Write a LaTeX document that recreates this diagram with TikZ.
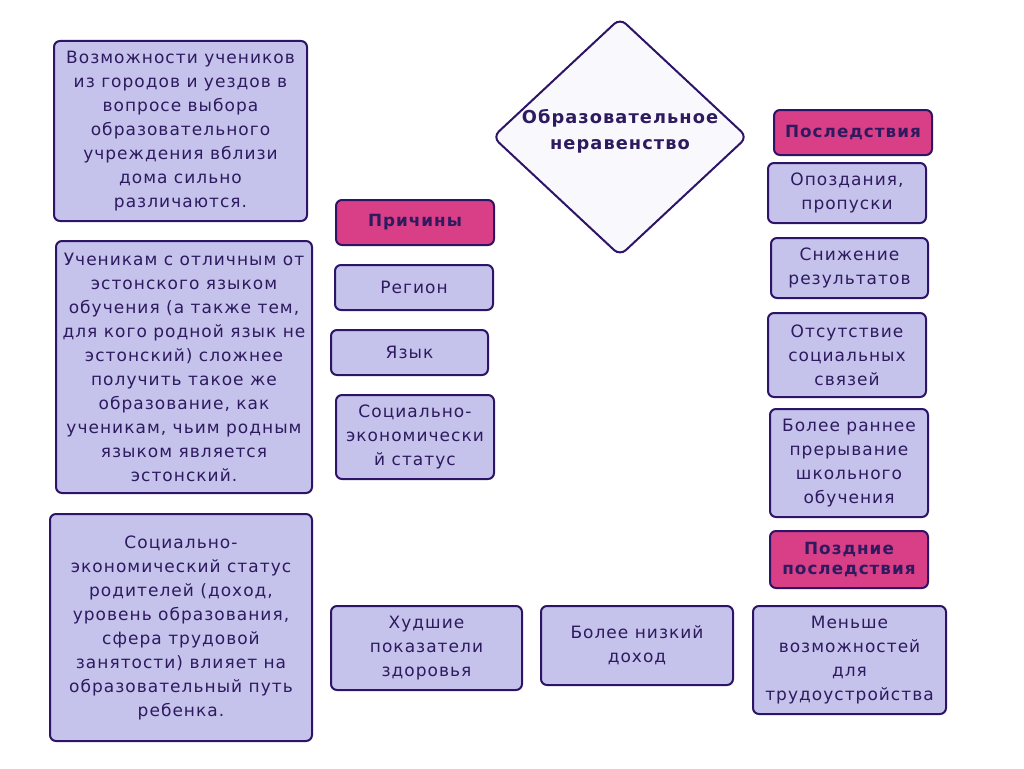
\documentclass[tikz,border=0pt]{standalone}
\usepackage{fontspec}
\setmainfont{DejaVu Sans}[LetterSpace=6]
\usetikzlibrary{shapes.geometric}
\definecolor{lav}{HTML}{C5C3EC}
\definecolor{edge}{HTML}{2D1466}
\definecolor{mag}{HTML}{D83F87}
\definecolor{ink}{HTML}{2E1A5E}
\definecolor{dfill}{HTML}{F9F9FD}
\tikzset{
  box/.style={draw=edge, line width=2pt, fill=lav, rounded corners=6pt, inner sep=0pt,
    align=center, text=ink, font=\fontsize{17}{24}\selectfont},
  headbox/.style={draw=edge, line width=2pt, fill=mag, rounded corners=6pt, inner sep=0pt,
    align=center, text=ink, font=\fontsize{16.8}{20.5}\selectfont\bfseries},
  diam/.style={diamond, draw=edge, line width=2pt, fill=dfill, rounded corners=8pt, inner sep=0pt,
    align=center, text=ink, font=\fontsize{17.8}{26}\selectfont\bfseries}
}
\begin{document}
\begin{tikzpicture}[x=1pt,y=-1pt]
\useasboundingbox (0,0) rectangle (1024,768);
\node[box, minimum width=253pt, minimum height=180pt] (l1) at (180.5,131)
  {Возможности учеников\\из городов и уездов в\\вопросе выбора\\образовательного\\учреждения вблизи\\дома сильно\\различаются.};
\node[box, minimum width=256pt, minimum height=252pt] (l2) at (184,367)
  {Ученикам с отличным от\\эстонского языком\\обучения (а также тем,\\для кого родной язык не\\эстонский) сложнее\\получить такое же\\образование, как\\ученикам, чьим родным\\языком является\\эстонский.};
\node[box, minimum width=262pt, minimum height=227pt] (l3) at (181,627.5)
  {Социально-\\экономический статус\\родителей (доход,\\уровень образования,\\сфера трудовой\\занятости) влияет на\\образовательный путь\\ребенка.};
\node[headbox, minimum width=158pt, minimum height=45pt] (prich) at (415,222.5) {Причины};
\node[box, minimum width=158pt, minimum height=45pt] (reg) at (414,287.5) {Регион};
\node[box, minimum width=157pt, minimum height=45pt] (yaz) at (409.5,352.5) {Язык};
\node[box, minimum width=158pt, minimum height=84pt] (soc) at (415,437) {Социально-\\экономически\\й статус};
\node[box, minimum width=191pt, minimum height=84pt] (zdr) at (426.5,648) {Худшие\\показатели\\здоровья};
\node[box, minimum width=192pt, minimum height=79pt] (doh) at (637,645.5) {Более низкий\\доход};
\node[diam, minimum width=255pt, minimum height=238pt] (main) at (620,137) {};
\node[text=ink, font=\fontsize{17.8}{26}\selectfont\bfseries, align=center, inner sep=0pt] (maintext) at (620,131) {Образовательное\\неравенство};
\node[headbox, minimum width=158pt, minimum height=45pt] (posl) at (853,132.5) {Последствия};
\node[box, minimum width=158pt, minimum height=60pt] (opo) at (847,193) {Опоздания,\\пропуски};
\node[box, minimum width=157pt, minimum height=60pt] (sni) at (849.5,268) {Снижение\\результатов};
\node[box, minimum width=158pt, minimum height=84pt] (ots) at (847,355) {Отсутствие\\социальных\\связей};
\node[box, minimum width=158pt, minimum height=108pt] (bol) at (849,463) {Более раннее\\прерывание\\школьного\\обучения};
\node[headbox, minimum width=158pt, minimum height=57pt] (pozd) at (849,559.5) {Поздние\\последствия};
\node[box, minimum width=193pt, minimum height=108pt] (men) at (849.5,660) {Меньше\\возможностей\\для\\трудоустройства};
\end{tikzpicture}
\end{document}
